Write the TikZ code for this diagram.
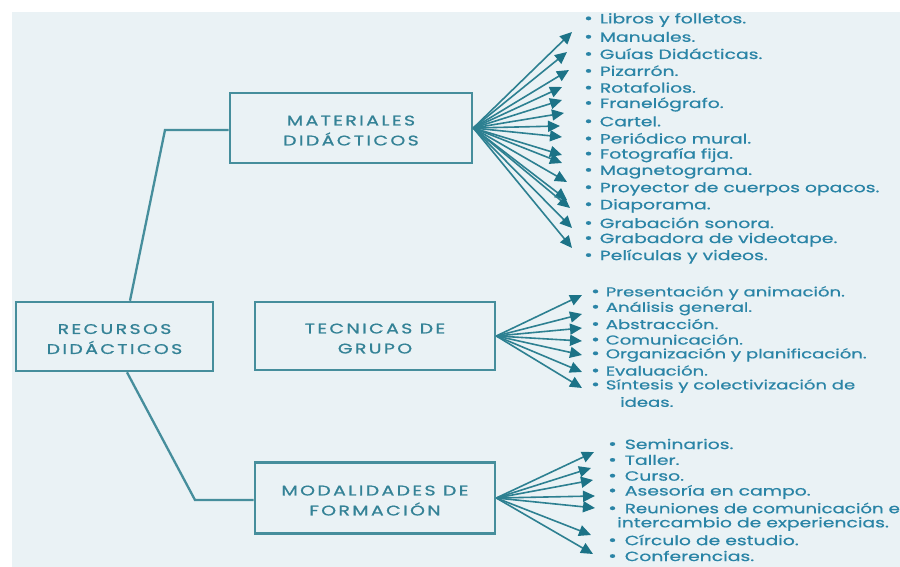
\documentclass[tikz,border=0pt]{standalone}
\usepackage{fontspec}
\newfontfamily\itemfont{Poppins}[FakeStretch=1.4,FakeBold=0.7]
\newfontfamily\boxfont{Poppins}[FakeStretch=1.35,LetterSpace=17,FakeBold=1]
\usetikzlibrary{arrows.meta}
\definecolor{bgc}{RGB}{234,242,245}
\definecolor{boxline}{RGB}{70,142,156}
\definecolor{boxtext}{RGB}{52,130,150}
\definecolor{itemtext}{RGB}{42,132,166}
\definecolor{arrowc}{RGB}{45,128,145}
\definecolor{tipc}{RGB}{28,115,135}
\newcommand\dotmark{{\fontsize{15}{14}\selectfont •}}
\newcommand\topstrut{\rule{0pt}{15pt}}
\begin{document}
\begin{tikzpicture}[x=1pt,y=-1pt,
  catbox/.style={draw=boxline,line width=2.6pt,fill=bgc,text=boxtext,align=center,
    font=\boxfont\fontsize{14}{20}\selectfont,inner sep=0pt},
  link/.style={draw=boxline,line width=2.3pt},
  fan/.style={draw=arrowc,line width=1.6pt,
    -{Triangle[length=12pt,width=11pt,fill=tipc,color=tipc]}},
  item/.style={anchor=west,inner sep=0pt,text=itemtext,
    font=\itemfont\fontsize{13.4}{14}\selectfont},
  smallitem/.style={item,font=\itemfont\fontsize{12.9}{14}\selectfont}]
\useasboundingbox (0,0) rectangle (900,567);
\fill[white] (0,0) rectangle (900,567);
\fill[bgc] (12,12) rectangle (900,567);

% category boxes
\node[catbox,minimum width=197pt,minimum height=69pt] (rec) at (114.5,336.5) {\topstrut RECURSOS\\DIDÁCTICOS};
\node[catbox,minimum width=242pt,minimum height=70pt] (mat) at (351,128) {\topstrut MATERIALES\\DIDÁCTICOS};
\node[catbox,minimum width=240pt,minimum height=68pt] (tec) at (375,336) {\topstrut TECNICAS DE\\GRUPO};
\node[catbox,minimum width=240pt,minimum height=71pt] (mod) at (375,498) {\topstrut MODALIDADES DE\\FORMACIÓN};

% links from the root box
\coordinate (k1) at (165,130);
\coordinate (k2) at (195,500);
\draw[link] (130,0 |- rec.north) -- (k1) -- (k1 -| mat.west);
\draw[link] (127,0 |- rec.south) -- (k2) -- (k2 -| mod.west);

% materiales
\foreach \t [count=\i from 0] in {Libros y folletos.,Manuales.,Guías Didácticas.,Pizarrón.,
  Rotafolios.,Franelógrafo.,Cartel.,Periódico mural.,Fotografía fija.,Magnetograma.,
  Proyector de cuerpos opacos.,Diaporama.,Grabación sonora.,Grabadora de videotape.,
  Películas y videos.}
  \node[item] (mi\i) at (584,{20+16.9*\i}) {\dotmark\hspace{7pt}\t};
\foreach \x/\y [count=\i] in {572/32,567/52,569/70,562/87,562/100,564/113,560/126,562/137,
  562/155,562/163,567/182,567/200,570/208,572/228,572/248}
{
  \coordinate (mt\i) at (\x,\y);
  \draw[fan] (mat.east) -- (mt\i);
}

% tecnicas
\foreach \t/\y [count=\i] in {Presentación y animación./293,Análisis general./308.5,
  Abstracción./324,Comunicación./339.5,Organización y planificación./355,
  Evaluación./370.5,Síntesis y colectivización de/386}
  \node[smallitem] (ti\i) at (591,\y) {\dotmark\hspace{6pt}\t};
\node[smallitem] (ti8) at (620,402) {ideas.};
\foreach \y [count=\i] in {295,314,328,341,355,372,388}
{
  \coordinate (tt\i) at (582,\y);
  \draw[fan] (tec.east) -- (tt\i);
}

% modalidades
\foreach \t/\y [count=\i] in {Seminarios./444,Taller./460,Curso./476,Asesoría en campo./492,
  Círculo de estudio./540,Conferencias./556}
  \node[item] (oi\i) at (608,\y) {\dotmark\hspace{8pt}\t};
\node[item] (oi7) at (608,508) {\dotmark\hspace{8pt}\scalebox{0.97}[1]{Reuniones de comunicación e}};
\node[item] (oi8) at (617,524) {intercambio de experiencias.};
\foreach \x/\y [count=\i] in {594/452,591/468,593/480,595/496,595/508,591/535,593/554}
{
  \coordinate (ot\i) at (\x,\y);
  \draw[fan] (mod.east) -- (ot\i);
}
\end{tikzpicture}
\end{document}
